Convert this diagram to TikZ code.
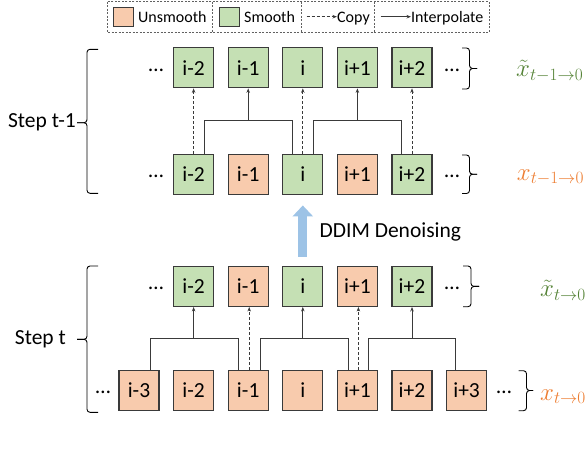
\documentclass[tikz,border=0pt]{standalone}
\usepackage{fontspec}
\setmainfont{Carlito}
\definecolor{smooth}{HTML}{C5E0B4}
\definecolor{unsmooth}{HTML}{F8CBAD}
\definecolor{edge}{HTML}{3A3A3A}
\definecolor{greentxt}{HTML}{548235}
\definecolor{orangetxt}{HTML}{ED7D31}
\definecolor{denoise}{HTML}{9DC3E6}
\usetikzlibrary{arrows.meta,positioning}
\tikzset{
  cellbox/.style={draw=edge,line width=1.1pt,minimum width=40pt,minimum height=40pt,
    inner sep=0pt,font=\fontsize{21.5}{24}\selectfont},
  cell_s/.style={cellbox,fill=smooth},
  cell_u/.style={cellbox,fill=unsmooth},
  swatch/.style={draw=edge,line width=0.8pt,minimum width=20pt,minimum height=19.5pt,inner sep=0pt},
  keytext/.style={font=\fontsize{16}{18}\selectfont,inner sep=0pt,anchor=base west},
  dotsnode/.style={font=\fontsize{21.5}{24}\selectfont,inner sep=0pt},
  steptext/.style={font=\fontsize{21.5}{24}\selectfont,inner sep=0pt},
  seqlabel/.style={font=\fontsize{24.5}{26}\selectfont,inner sep=0pt,anchor=base west},
  link/.style={draw=edge,line width=0.9pt},
  arr/.style={-{Stealth[length=4.5pt,width=3.5pt]},draw=edge,line width=0.9pt},
  arr_d/.style={arr,dash pattern=on 3pt off 2pt},
  legendline/.style={draw=edge!80,line width=0.8pt,dash pattern=on 2pt off 1.5pt},
  bracepath/.style={draw=black,line width=0.9pt,rounded corners=3pt},
}
\begin{document}
\begin{tikzpicture}[x=1pt,y=-1pt]
    \useasboundingbox (0,0) rectangle (588,448);

    % legend
    \draw[legendline] (107.3,1.5) rectangle (489,32.3);
    \draw[legendline] (212.7,1.5) -- (212.7,32.3);
    \draw[legendline] (301,1.5) -- (301,32.3);
    \draw[legendline] (374.3,1.5) -- (374.3,32.3);
    \node[swatch,fill=unsmooth] (kU) at (123.5,16.7) {};
    \node[keytext] (kUt) at (138,22) {Unsmooth};
    \node[swatch,fill=smooth] (kS) at (229.5,16.7) {};
    \node[keytext] (kSt) at (244,22) {Smooth};
    \coordinate (kC) at (306.7,16.7);
    \node[keytext] (kCt) at (337,22) {Copy};
    \coordinate (kI) at (380.7,16.7);
    \node[keytext] (kIt) at (411,22) {Interpolate};
    \draw[arr_d] (kC) -- (kC -| kCt.west);
    \draw[arr] (kI) -- (kI -| kIt.west);

    % step t-1
    \node[cell_s] (am2) at (193.6,67.8) {i-2};
    \node[cell_s] (am1) at (248.2,67.8) {i-1};
    \node[cell_s] (a0) at (302.8,67.8) {i};
    \node[cell_s] (ap1) at (357.4,67.8) {i+1};
    \node[cell_s] (ap2) at (412,67.8) {i+2};
    \node[cell_s] (bm2) at (193.6,174.2) {i-2};
    \node[cell_u] (bm1) at (248.2,174.2) {i-1};
    \node[cell_s] (b0) at (302.8,174.2) {i};
    \node[cell_u] (bp1) at (357.4,174.2) {i+1};
    \node[cell_s] (bp2) at (412,174.2) {i+2};
    \node[dotsnode] (aL) at (156,70) {…};
    \node[dotsnode] (aR) at (452,70) {…};
    \node[dotsnode] (bL) at (156,176) {…};
    \node[dotsnode] (bR) at (452,176) {…};

    \coordinate (j1) at (248.2,120.5);
    \coordinate (j2) at (357.4,120.5);
    \draw[link] ([xshift=10.5pt]bm2.north) |- (j1) -| ([xshift=-10.5pt]b0.north);
    \draw[link] ([xshift=11pt]b0.north) |- (j2) -| ([xshift=-10.5pt]bp2.north);
    \draw[arr] (j1) -- (am1.south);
    \draw[arr] (j2) -- (ap1.south);
    \draw[arr_d] (bm2.north) -- (am2.south);
    \draw[arr_d] (b0.north) -- (a0.south);
    \draw[arr_d] (bp2.north) -- (ap2.south);

    \coordinate (tA) at (77,122.7);
    \draw[bracepath] (98,49.3) -| (87,122.7) -- (tA);
    \draw[bracepath] (98,193.3) -| (87,122.7) -- (tA);
    \node[steptext,left=1pt of tA] (stepA) {Step t-1};
    \draw[bracepath] (462,48) -| (469.5,68.5) -- (477,68.5);
    \draw[bracepath] (462,89) -| (469.5,68.5) -- (477,68.5);
    \draw[bracepath] (462,155) -| (469.5,174.2) -- (477,174.2);
    \draw[bracepath] (462,193.5) -| (469.5,174.2) -- (477,174.2);
    \node[seqlabel,text=greentxt] (labA) at (516,76.7) {$\tilde{x}_{t-1\to0}$};
    \node[seqlabel,text=orangetxt] (labB) at (516.7,180) {$x_{t-1\to0}$};

    % step t
    \node[cell_s] (cm2) at (193.6,286.4) {i-2};
    \node[cell_u] (cm1) at (248.2,286.4) {i-1};
    \node[cell_s] (c0) at (302.8,286.4) {i};
    \node[cell_u] (cp1) at (357.4,286.4) {i+1};
    \node[cell_s] (cp2) at (412,286.4) {i+2};
    \node[cell_u] (dm3) at (139,390.4) {i-3};
    \node[cell_u] (dm2) at (193.6,390.4) {i-2};
    \node[cell_u] (dm1) at (248.2,390.4) {i-1};
    \node[cell_u] (d0) at (302.8,390.4) {i};
    \node[cell_u] (dp1) at (357.4,390.4) {i+1};
    \node[cell_u] (dp2) at (412,390.4) {i+2};
    \node[cell_u] (dp3) at (466.6,390.4) {i+3};
    \node[dotsnode] (cL) at (156,288) {…};
    \node[dotsnode] (cR) at (452,288) {…};
    \node[dotsnode] (dL) at (103,392) {…};
    \node[dotsnode] (dR) at (504,392) {…};

    \coordinate (j3) at (193.6,338);
    \coordinate (j4) at (302.8,338);
    \coordinate (j5) at (412,338);
    \draw[link] ([xshift=11pt]dm3.north) |- (j3) -| ([xshift=-10pt]dm1.north);
    \draw[link] ([xshift=12pt]dm1.north) |- (j4) -| ([xshift=-9pt]dp1.north);
    \draw[link] ([xshift=11pt]dp1.north) |- (j5) -| ([xshift=-11pt]dp3.north);
    \draw[arr] (j3) -- (cm2.south);
    \draw[arr] (j4) -- (c0.south);
    \draw[arr] (j5) -- (cp2.south);
    \draw[arr_d] ([xshift=1pt]dm1.north) -- ([xshift=1pt]cm1.south);
    \draw[arr_d] ([xshift=1pt]dp1.north) -- ([xshift=1pt]cp1.south);

    \coordinate (tB) at (77,339.3);
    \draw[bracepath] (98,266) -| (87,339.3) -- (tB);
    \draw[bracepath] (98,412.3) -| (87,339.3) -- (tB);
    \node[steptext,left=11pt of tB] (stepB) {Step t};
    \draw[bracepath] (463,266) -| (471,286.4) -- (479,286.4);
    \draw[bracepath] (463,306.7) -| (471,286.4) -- (479,286.4);
    \draw[bracepath] (518.5,370.7) -| (526.5,390.5) -- (533,390.5);
    \draw[bracepath] (518.5,410.7) -| (526.5,390.5) -- (533,390.5);
    \node[seqlabel,text=greentxt] (labC) at (540,296.7) {$\tilde{x}_{t\to0}$};
    \node[seqlabel,text=orangetxt] (labD) at (540,400) {$x_{t\to0}$};

    % denoising
    \draw[denoise,line width=9pt,-{Triangle[width=20pt,length=11pt]}]
      ([yshift=9.3pt]c0.north) -- ([yshift=-10.7pt]b0.south);
    \node[steptext,anchor=west] (ddim) at (319.5,231.7) {DDIM Denoising};
\end{tikzpicture}
\end{document}
